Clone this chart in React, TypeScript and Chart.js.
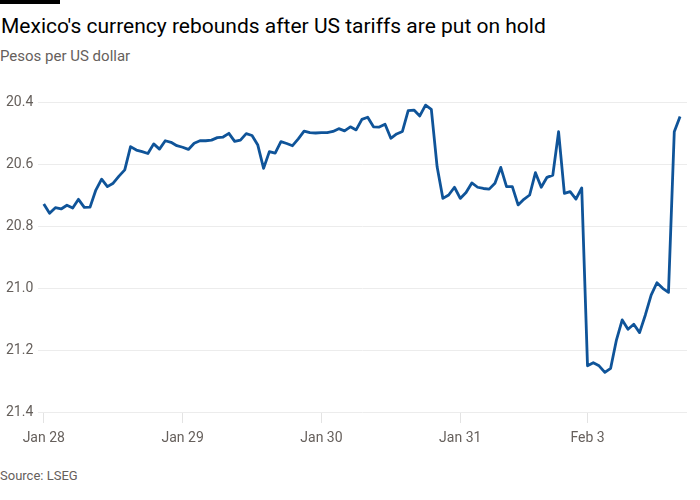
import { useEffect, useRef } from 'react';
import { Chart, ChartConfiguration, registerables } from 'chart.js';

Chart.register(...registerables);

// Hourly MXN per USD readings, Jan 28 – Feb 3
const pesosPerDollar = [
  20.729, 20.759, 20.741, 20.745, 20.733, 20.742, 20.714, 20.74, 20.739, 20.684,
  20.649, 20.673, 20.662, 20.639, 20.619, 20.544, 20.555, 20.56, 20.566, 20.535,
  20.552, 20.525, 20.53, 20.541, 20.546, 20.553, 20.533, 20.525, 20.525, 20.523,
  20.515, 20.513, 20.501, 20.527, 20.523, 20.502, 20.508, 20.539, 20.614, 20.56,
  20.565, 20.528, 20.534, 20.541, 20.519, 20.494, 20.499, 20.5, 20.499, 20.499,
  20.495, 20.486, 20.493, 20.48, 20.49, 20.456, 20.449, 20.48, 20.481, 20.472,
  20.517, 20.503, 20.495, 20.428, 20.426, 20.445, 20.41, 20.424, 20.609, 20.711,
  20.7, 20.675, 20.711, 20.692, 20.661, 20.675, 20.679, 20.681, 20.662, 20.611,
  20.673, 20.673, 20.732, 20.714, 20.7, 20.628, 20.675, 20.643, 20.636, 20.496,
  20.695, 20.689, 20.713, 20.677, 21.251, 21.241, 21.251, 21.272, 21.259, 21.168,
  21.103, 21.133, 21.117, 21.144, 21.087, 21.023, 20.983, 21.001, 21.014, 20.496,
  20.447,
];

// index of the first reading of each trading day
const dayStarts = [0, 24, 48, 72, 94];
const dayLabels = ['Jan 28', 'Jan 29', 'Jan 30', 'Jan 31', 'Feb 3'];

const yTicks = [20.4, 20.6, 20.8, 21.0, 21.2, 21.4];

const FONT = "Roboto, 'Noto Sans', sans-serif";
const GREY = '#66605c';

function PesoChart() {
  const canvasRef = useRef<HTMLCanvasElement>(null);
  const chartRef = useRef<Chart | null>(null);

  useEffect(() => {
    if (!canvasRef.current) return;

    const config: ChartConfiguration = {
      type: 'line',
      data: {
        datasets: [
          {
            data: pesosPerDollar.map((y, i) => ({ x: i, y })),
            borderColor: '#0f5499',
            borderWidth: 2.8,
            pointRadius: 0,
            tension: 0,
            borderJoinStyle: 'round',
          },
        ],
      },
      options: {
        animation: false,
        responsive: true,
        maintainAspectRatio: false,
        layout: { padding: { left: 6, right: 13, top: 22, bottom: 8 } },
        plugins: {
          legend: { display: false },
          tooltip: { enabled: false },
        },
        scales: {
          x: {
            type: 'linear',
            min: -1,
            max: 111.2,
            afterBuildTicks: (scale) => {
              scale.ticks = dayStarts.map((value) => ({ value }));
            },
            afterFit: (scale) => {
              scale.height = 40;
            },
            ticks: {
              autoSkip: false,
              maxRotation: 0,
              padding: 7,
              color: GREY,
              font: { family: FONT, size: 14 },
              callback: (value) => {
                const i = dayStarts.indexOf(Number(value));
                return i >= 0 ? dayLabels[i] : '';
              },
            },
            grid: {
              drawOnChartArea: false,
              drawTicks: true,
              tickLength: 11,
              color: '#e3e3e3',
            },
            border: { display: false },
          },
          y: {
            reverse: true,
            min: 20.4,
            max: 21.4,
            afterBuildTicks: (scale) => {
              scale.ticks = yTicks.map((value) => ({ value }));
            },
            afterFit: (scale) => {
              scale.width = 32;
            },
            ticks: {
              crossAlign: 'far',
              color: GREY,
              font: { family: FONT, size: 14 },
              callback: (value) => Number(value).toFixed(1),
            },
            grid: { color: '#ececec', drawTicks: false },
            border: { display: false },
          },
        },
      },
    };

    chartRef.current = new Chart(canvasRef.current, config);

    return () => {
      chartRef.current?.destroy();
    };
  }, []);

  return (
    <div style={{ position: 'absolute', left: 0, top: 80, width: 700, height: 380 }}>
      <canvas ref={canvasRef}></canvas>
    </div>
  );
}

export default function App() {
  return (
    <div
      style={{
        position: 'fixed',
        left: 0,
        top: 0,
        width: 700,
        height: 500,
        background: '#ffffff',
        fontFamily: FONT,
      }}
    >
      <div style={{ position: 'absolute', left: 0, top: 0, width: 60, height: 4, background: '#000' }} />
      <div
        style={{
          position: 'absolute',
          left: 1,
          top: 13,
          fontSize: 21,
          lineHeight: '26px',
          color: '#000',
          whiteSpace: 'nowrap',
        }}
      >
        Mexico's currency rebounds after US tariffs are put on hold
      </div>
      <div
        style={{ position: 'absolute', left: 0, top: 46, fontSize: 15, lineHeight: '20px', color: GREY }}
      >
        Pesos per US dollar
      </div>
      <PesoChart />
      <div
        style={{ position: 'absolute', left: 0, top: 467, fontSize: 13, lineHeight: '18px', color: GREY }}
      >
        Source: LSEG
      </div>
    </div>
  );
}
